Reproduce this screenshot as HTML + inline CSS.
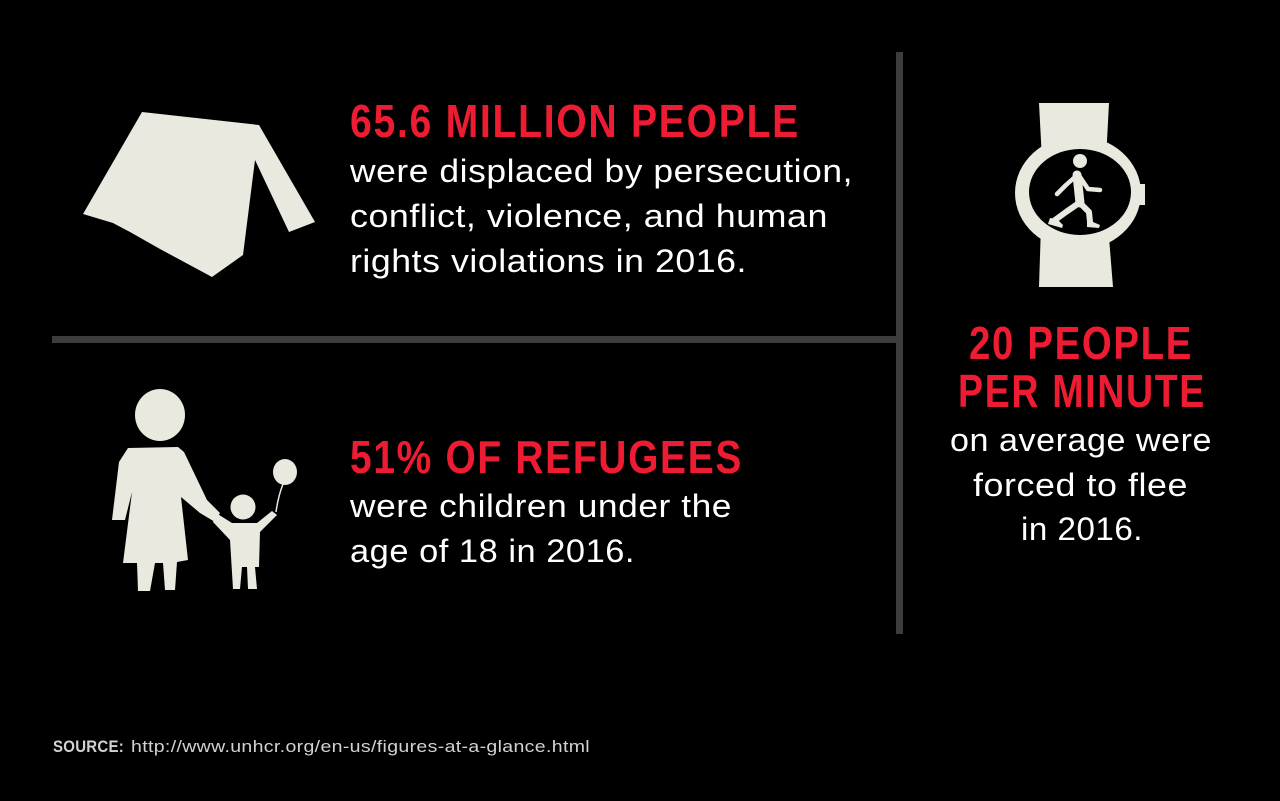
<!DOCTYPE html>
<html>
<head>
<meta charset="utf-8">
<style>
  html,body{margin:0;padding:0;background:#000;}
  body{width:1280px;height:801px;overflow:hidden;}
  svg{display:block;}
  .h{font-family:"Liberation Sans",sans-serif;font-weight:bold;fill:#ee1c33;font-size:46px;letter-spacing:2px;}
  .b{font-family:"Liberation Sans",sans-serif;fill:#ffffff;font-size:32px;letter-spacing:0.5px;}
  .s{font-family:"Liberation Sans",sans-serif;fill:#d2d2d2;font-size:17px;letter-spacing:0.3px;}
</style>
</head>
<body>
<svg width="1280" height="801" viewBox="0 0 1280 801" xmlns="http://www.w3.org/2000/svg">
  <rect x="0" y="0" width="1280" height="801" fill="#000"/>

  <!-- divider lines -->
  <rect x="52" y="336" width="846" height="7" fill="#3c3c3c"/>
  <rect x="896" y="52" width="7" height="582" fill="#3c3c3c"/>

  <!-- tent -->
  <polygon fill="#e9e9e0" points="142,112 259,125 315,222 289,232 255,160 243,255 212,277 160,249 130,232 113,223 83,214"/>

  <!-- mother & child -->
  <g fill="#e9e9e0">
    <ellipse cx="160" cy="415" rx="25" ry="26"/>
    <polygon points="128,448 178,447 184,452 207,500 220,513 215,522 200,513 181,497 188,560 177,562 175,590 165,590 163,563 155,563 150,591 138,591 137,563 123,563 132,492 125,520 112,520 119,462"/>
    <circle cx="243" cy="507" r="12.5"/>
    <polygon points="216,513 232,523 257,523 272,511 277,515 260,532 259,567 255,567 257,589 248,589 247,567 242,567 240,589 233,589 230,540 213,522"/>
    <ellipse cx="285" cy="472" rx="12" ry="13"/>
  </g>
  <path d="M283,484 Q278,497 276,512" stroke="#e9e9e0" stroke-width="1.5" fill="none"/>

  <!-- watch -->
  <g fill="#e9e9e0">
    <polygon points="1039,103 1109,103 1106,160 1042,160"/>
    <polygon points="1041,225 1108,225 1113,287 1039,287"/>
    <rect x="1127" y="184" width="18" height="21"/>
    <ellipse cx="1078" cy="193" rx="63" ry="57"/>
  </g>
  <ellipse cx="1080" cy="192" rx="51" ry="43" fill="#000"/>
  <!-- walking man -->
  <g stroke="#e9e9e0" stroke-linecap="round" stroke-linejoin="round" fill="none">
    <path d="M1077,175 L1080,203" stroke-width="9"/>
    <path d="M1079,203 L1066,212 L1055,220" stroke-width="6"/>
    <path d="M1080,203 L1089,212 L1090,222" stroke-width="6"/>
    <path d="M1075,177 L1066,185 L1057,194" stroke-width="4.5"/>
    <path d="M1080,177 L1088,189 L1100,190" stroke-width="4.5"/>
  </g>
  <g fill="#e9e9e0">
    <circle cx="1080" cy="161" r="7"/>
    <polygon points="1050,218 1057,219 1063,225 1062,228 1048,224"/>
    <polygon points="1087,221 1093,222 1100,225 1099,228 1087,227"/>
  </g>

  <!-- block 1 -->
  <text class="h" x="350" y="137" textLength="450" lengthAdjust="spacingAndGlyphs">65.6 MILLION PEOPLE</text>
  <text class="b" x="350" y="182" textLength="503" lengthAdjust="spacingAndGlyphs">were displaced by persecution,</text>
  <text class="b" x="350" y="227" textLength="478" lengthAdjust="spacingAndGlyphs">conflict, violence, and human</text>
  <text class="b" x="350" y="272" textLength="397" lengthAdjust="spacingAndGlyphs">rights violations in 2016.</text>

  <!-- block 2 -->
  <text class="h" x="350" y="473" textLength="393" lengthAdjust="spacingAndGlyphs">51% OF REFUGEES</text>
  <text class="b" x="350" y="517" textLength="382" lengthAdjust="spacingAndGlyphs">were children under the</text>
  <text class="b" x="350" y="562" textLength="285" lengthAdjust="spacingAndGlyphs">age of 18 in 2016.</text>

  <!-- block 3 -->
  <text class="h" x="969" y="359" textLength="224" lengthAdjust="spacingAndGlyphs">20 PEOPLE</text>
  <text class="h" x="958" y="407" textLength="248" lengthAdjust="spacingAndGlyphs">PER MINUTE</text>
  <text class="b" x="950" y="451" textLength="262" lengthAdjust="spacingAndGlyphs">on average were</text>
  <text class="b" x="973" y="496" textLength="215" lengthAdjust="spacingAndGlyphs">forced to flee</text>
  <text class="b" x="1021" y="540" textLength="122" lengthAdjust="spacingAndGlyphs">in 2016.</text>

  <!-- source -->
  <text class="s" x="53" y="752" font-weight="bold" textLength="71" lengthAdjust="spacingAndGlyphs">SOURCE:</text>
  <text class="s" x="131" y="752" textLength="459" lengthAdjust="spacingAndGlyphs">http://www.unhcr.org/en-us/figures-at-a-glance.html</text>
</svg>
</body>
</html>
